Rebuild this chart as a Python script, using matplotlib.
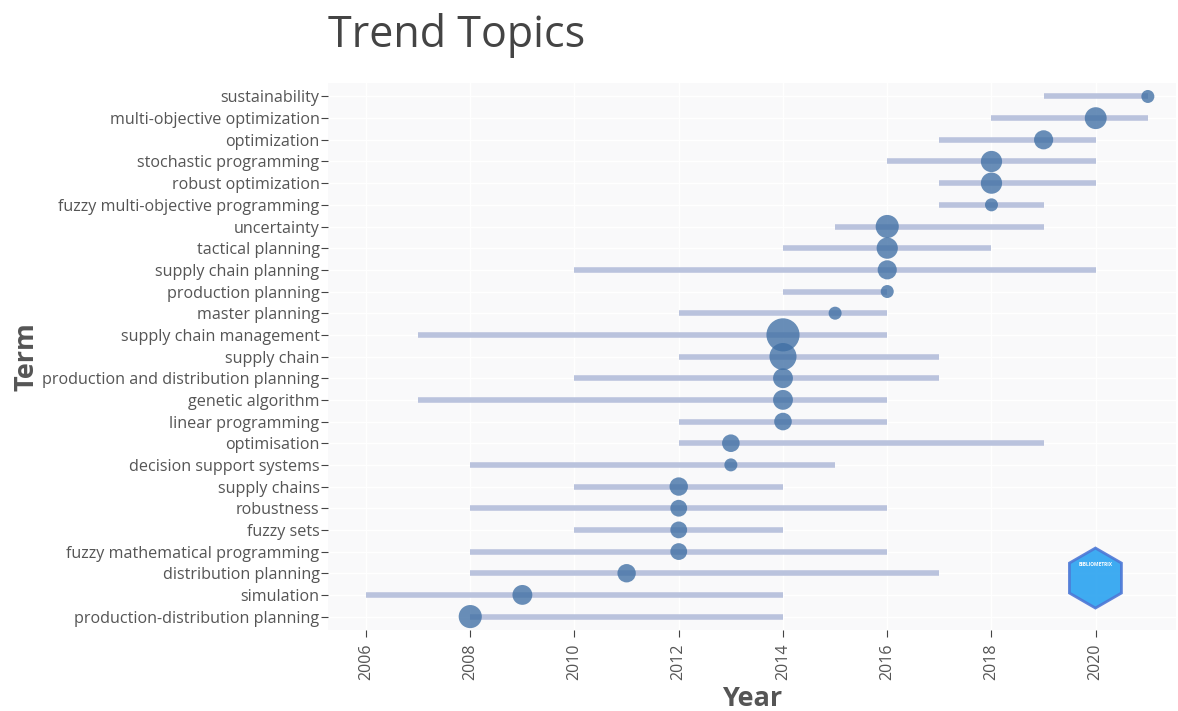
import matplotlib.pyplot as plt
from matplotlib.patches import Polygon
import numpy as np

plt.rcParams['font.family'] = ['Open Sans', 'DejaVu Sans']

terms = [
    'sustainability', 'multi-objective optimization', 'optimization',
    'stochastic programming', 'robust optimization',
    'fuzzy multi-objective programming', 'uncertainty', 'tactical planning',
    'supply chain planning', 'production planning', 'master planning',
    'supply chain management', 'supply chain',
    'production and distribution planning', 'genetic algorithm',
    'linear programming', 'optimisation', 'decision support systems',
    'supply chains', 'robustness', 'fuzzy sets',
    'fuzzy mathematical programming', 'distribution planning', 'simulation',
    'production-distribution planning',
]
year_q1 = [2019, 2018, 2017, 2016, 2017, 2017, 2015, 2014, 2010, 2014, 2012,
           2007, 2012, 2010, 2007, 2012, 2012, 2008, 2010, 2008, 2010, 2008,
           2008, 2006, 2008]
year_q3 = [2021, 2021, 2020, 2020, 2020, 2019, 2019, 2018, 2020, 2016, 2016,
           2016, 2017, 2017, 2016, 2016, 2019, 2015, 2014, 2016, 2014, 2016,
           2017, 2014, 2014]
year_med = [2021, 2020, 2019, 2018, 2018, 2018, 2016, 2016, 2016, 2016, 2015,
            2014, 2014, 2014, 2014, 2014, 2013, 2013, 2012, 2012, 2012, 2012,
            2011, 2009, 2008]
freq = [6, 17, 13, 16, 16, 6, 19, 16, 13, 6, 6,
        39, 26, 14, 14, 11, 11, 6, 12, 10, 10, 10,
        12, 14, 19]

n = len(terms)
ypos = [n - 1 - i for i in range(n)]

fig = plt.figure(figsize=(11.78, 7.11), dpi=100)
ax = fig.add_axes([0.2784, 0.1139, 0.7199, 0.7693])
ax.set_facecolor('#f9f9fa')

ax.hlines(ypos, year_q1, year_q3, color='#b7c0dc', linewidth=4.0,
          alpha=0.95, zorder=2)
ax.scatter(year_med, ypos, s=[14.6 * f for f in freq], color='#3f6fa4',
           alpha=0.78, linewidths=0, zorder=3)

ax.set_xlim(2005.27, 2021.54)
ax.set_ylim(-0.62, n - 1 + 0.62)
ax.set_xticks(range(2006, 2021, 2))
ax.set_yticks(ypos)
ax.set_yticklabels(terms)
ax.tick_params(axis='x', labelrotation=90, labelsize=11.5, colors='#444444',
               length=5, width=0.8, pad=5)
ax.tick_params(axis='y', labelsize=11.6, colors='#444444', length=5,
               width=0.8, pad=1)
for lab in ax.get_xticklabels() + ax.get_yticklabels():
    lab.set_color('#555555')
ax.grid(True, color='white', linewidth=1.0, zorder=0)
ax.set_axisbelow(True)
for sp in ax.spines.values():
    sp.set_visible(False)

ax.set_xlabel('Year', fontsize=19.5, fontweight='bold', color='#555555',
              labelpad=4)
ax.set_ylabel('Term', fontsize=19.5, fontweight='bold', color='#555555',
              labelpad=2)
fig.text(0.2784, 0.95, 'Trend Topics', fontsize=31, color='#444444',
         ha='left', va='center')

# logo badge in the corner (pointy-top hexagon, sized in pixels)
cx, cy, r = 0.905, 0.095, 30
ang = np.deg2rad(90 + 60 * np.arange(6))
hex_xy = np.column_stack([cx + r * np.cos(ang) / 848, cy + r * np.sin(ang) / 547])
ax.add_patch(Polygon(hex_xy, closed=True, transform=ax.transAxes,
                     facecolor='#2aa3f0', edgecolor='#4d78d6', linewidth=2,
                     alpha=0.9, zorder=4))
ax.text(cx, cy + 0.025, 'BIBLIOMETRIX', transform=ax.transAxes, fontsize=3.5,
        color='white', ha='center', va='center', fontweight='bold', zorder=5)

fig.savefig('out.png', dpi=100)
